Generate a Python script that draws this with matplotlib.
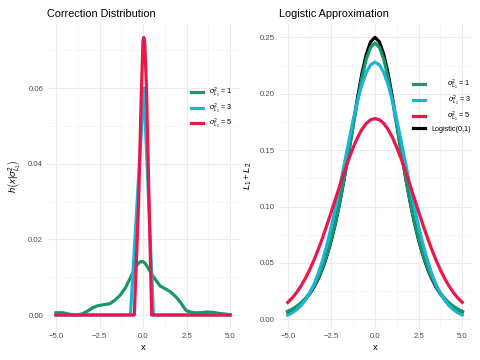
# Réplica de dos paneles: distribución de corrección y aproximación logística

import numpy as np
import matplotlib
matplotlib.use("Agg")
import matplotlib.pyplot as plt

plt.rcParams["font.family"] = ["Liberation Sans", "DejaVu Sans"]
plt.rcParams["mathtext.fontset"] = "custom"
plt.rcParams["mathtext.rm"] = "Liberation Sans"
plt.rcParams["mathtext.it"] = "Liberation Sans:italic"

# Datos

etiquetas = [r"$\sigma^2_{L_1}$ = 1", r"$\sigma^2_{L_1}$ = 3", r"$\sigma^2_{L_1}$ = 5"]
colores = ["#14996B", "#1DB4D6", "#E8184A"]

# Panel izquierdo: h(x | sigma^2)
x_h1 = [-5.0, -4.6, -4.2, -3.8, -3.5, -3.2, -2.9, -2.65, -2.3, -1.9, -1.6, -1.3, -1.0,
        -0.74, -0.5, -0.35, -0.16, 0.0, 0.12, 0.35, 0.6, 0.98, 1.3, 1.56, 1.85, 2.13,
        2.35, 2.5, 2.9, 3.3, 3.66, 4.0, 4.43, 5.0]
h1 = [0.0006, 0.0006, 0.0002, 0.0000, 0.0003, 0.0010, 0.0019, 0.0024, 0.0027, 0.0030,
      0.0040, 0.0053, 0.0073, 0.0097, 0.0120, 0.0132, 0.0141, 0.0141, 0.0137, 0.0120,
      0.0101, 0.0077, 0.0069, 0.0062, 0.0050, 0.0035, 0.0020, 0.0011, 0.0006, 0.0006,
      0.0008, 0.0007, 0.0004, 0.0001]
x_h3 = [-5.0, -0.72, 0.05, 0.6, 5.0]
h3 = [0.0, 0.0, 0.060, 0.0, 0.0]
x_h5 = [-5.0, -0.5, -0.25, -0.1, 0.0, 0.05, 0.1, 0.2, 0.35, 0.5, 5.0]
h5 = [0.0, 0.0, 0.030, 0.058, 0.0725, 0.0734, 0.0722, 0.060, 0.030, 0.0, 0.0]

# Panel derecho: L1 + L2
x_l = [-5.0, -4.75, -4.5, -4.25, -4.0, -3.75, -3.5, -3.25, -3.0, -2.75, -2.5, -2.25,
       -2.0, -1.75, -1.5, -1.25, -1.0, -0.75, -0.5, -0.25, 0.0, 0.25, 0.5, 0.75, 1.0,
       1.25, 1.5, 1.75, 2.0, 2.25, 2.5, 2.75, 3.0, 3.25, 3.5, 3.75, 4.0, 4.25, 4.5,
       4.75, 5.0]
l1 = [0.0071, 0.0090, 0.0114, 0.0145, 0.0184, 0.0233, 0.0294, 0.0369, 0.0462, 0.0575,
      0.0710, 0.0869, 0.1053, 0.1259, 0.1482, 0.1714, 0.1940, 0.2143, 0.2307, 0.2413,
      0.2450, 0.2413, 0.2307, 0.2143, 0.1940, 0.1714, 0.1482, 0.1259, 0.1053, 0.0869,
      0.0710, 0.0575, 0.0462, 0.0369, 0.0294, 0.0233, 0.0184, 0.0145, 0.0114, 0.0090,
      0.0071]
l3 = [0.0038, 0.0057, 0.0084, 0.0119, 0.0167, 0.0230, 0.0309, 0.0407, 0.0525, 0.0663,
      0.0822, 0.0998, 0.1187, 0.1383, 0.1579, 0.1767, 0.1936, 0.2080, 0.2189, 0.2257,
      0.2280, 0.2257, 0.2189, 0.2080, 0.1936, 0.1767, 0.1579, 0.1383, 0.1187, 0.0998,
      0.0822, 0.0663, 0.0525, 0.0407, 0.0309, 0.0230, 0.0167, 0.0119, 0.0084, 0.0057,
      0.0038]
l5 = [0.0150, 0.0188, 0.0236, 0.0293, 0.0360, 0.0437, 0.0524, 0.0620, 0.0725, 0.0837,
      0.0954, 0.1074, 0.1194, 0.1311, 0.1422, 0.1523, 0.1612, 0.1684, 0.1737, 0.1770,
      0.1780, 0.1770, 0.1737, 0.1684, 0.1612, 0.1523, 0.1422, 0.1311, 0.1194, 0.1074,
      0.0954, 0.0837, 0.0725, 0.0620, 0.0524, 0.0437, 0.0360, 0.0293, 0.0236, 0.0188,
      0.0150]
logistica = [0.0066, 0.0085, 0.0109, 0.0139, 0.0177, 0.0224, 0.0285, 0.0359, 0.0452,
             0.0566, 0.0701, 0.0862, 0.1050, 0.1262, 0.1491, 0.1731, 0.1966, 0.2179,
             0.2350, 0.2461, 0.2500, 0.2461, 0.2350, 0.2179, 0.1966, 0.1731, 0.1491,
             0.1262, 0.1050, 0.0862, 0.0701, 0.0566, 0.0452, 0.0359, 0.0285, 0.0224,
             0.0177, 0.0139, 0.0109, 0.0085, 0.0066]

xticks = [-5.0, -2.5, 0.0, 2.5, 5.0]
yticks_izq = [0.00, 0.02, 0.04, 0.06]
yticks_der = [0.00, 0.05, 0.10, 0.15, 0.20, 0.25]

W, H = 480, 360
LW = 2.3
GRIS_TXT = "#4D4D4D"
TAM_TICK = 5.6
TAM_EJE = 6.8
TAM_TITULO = 7.8
TAM_LEY = 5.2


def estilo_minimal(ax, yticks, ymenor):
    """Ejes al estilo theme_minimal de ggplot"""
    for s in ax.spines.values():
        s.set_visible(False)
    ax.set_xticks(xticks)
    ax.set_xticklabels([f"{v:.1f}".replace("-", "\u2212") for v in xticks])
    ax.set_yticks(yticks)
    ax.set_yticklabels([f"{v:.2f}" for v in yticks])
    ax.set_xticks([-3.75, -1.25, 1.25, 3.75], minor=True)
    ax.set_yticks(ymenor, minor=True)
    ax.tick_params(which="both", length=0, labelsize=TAM_TICK, colors=GRIS_TXT, pad=3)
    ax.grid(which="major", color="#EBEBEB", lw=0.8)
    ax.grid(which="minor", color="#F4F4F4", lw=0.5)
    ax.set_axisbelow(True)
    ax.set_xlim(-5.5, 5.5)
    ax.set_xlabel("x", fontsize=TAM_EJE, labelpad=2)


def ejes(fig, x0, x1, y0, y1):
    return fig.add_axes([x0 / W, 1 - y1 / H, (x1 - x0) / W, (y1 - y0) / H])


fig = plt.figure(figsize=(4.8, 3.6), dpi=100)

# Panel izquierdo
ax1 = ejes(fig, 47.3, 238.7, 23.5, 328.9)
ax1.plot(x_h1, h1, color=colores[0], lw=LW, label=etiquetas[0], solid_joinstyle="round")
ax1.plot(x_h3, h3, color=colores[1], lw=LW, label=etiquetas[1], solid_joinstyle="round")
ax1.plot(x_h5, h5, color=colores[2], lw=LW, label=etiquetas[2], solid_joinstyle="round")
estilo_minimal(ax1, yticks_izq, [0.01, 0.03, 0.05, 0.07])
ax1.set_ylim(-0.00367, 0.0771)
ax1.set_ylabel(r"$h\left(x|\sigma^2_{L_1}\right)$", fontsize=TAM_EJE, labelpad=4)
ax1.set_title("Correction Distribution", fontsize=TAM_TITULO, loc="left", pad=5)
leg1 = ax1.legend(loc="upper left", bbox_to_anchor=(191 / W, 1 - 86 / H),
                  bbox_transform=fig.transFigure, frameon=False, fontsize=TAM_LEY,
                  handlelength=1.7, handletextpad=0.8, labelspacing=0.2,
                  borderpad=0, borderaxespad=0)

# Panel derecho
ax2 = ejes(fig, 279, 471, 23.5, 328.9)
ax2.plot(x_l, logistica, color="black", lw=LW, label="Logistic(0,1)")
ax2.plot(x_l, l1, color=colores[0], lw=LW, label=etiquetas[0])
ax2.plot(x_l, l3, color=colores[1], lw=LW, label=etiquetas[1])
ax2.plot(x_l, l5, color=colores[2], lw=LW, label=etiquetas[2])
estilo_minimal(ax2, yticks_der, [0.025, 0.075, 0.125, 0.175, 0.225])
ax2.set_ylim(0.0038 - 0.0123, 0.25 + 0.0123)
ax2.set_ylabel(r"$L_1 + L_2$", fontsize=TAM_EJE, labelpad=4)
ax2.set_title("Logistic Approximation", fontsize=TAM_TITULO, loc="left", pad=5)

manejadores, nombres = ax2.get_legend_handles_labels()
orden = [1, 2, 3, 0]
leg2 = ax2.legend([manejadores[i] for i in orden], [nombres[i] for i in orden],
                  loc="upper left", bbox_to_anchor=(413 / W, 1 - 78 / H),
                  bbox_transform=fig.transFigure, frameon=False, fontsize=TAM_LEY,
                  handlelength=1.7, handletextpad=0.6, labelspacing=0.25,
                  borderpad=0, borderaxespad=0)

# Etiquetas de la leyenda derecha alineadas a la derecha
fig.canvas.draw()
renderer = fig.canvas.get_renderer()
for t in leg2.get_texts():
    caja = t.get_window_extent(renderer)
    yc = (caja.y0 + caja.y1) / 2
    fig.text(471 / W, yc / H, t.get_text(), ha="right", va="center",
             fontsize=TAM_LEY)
    t.set_visible(False)

fig.savefig("out.png", dpi=100)
